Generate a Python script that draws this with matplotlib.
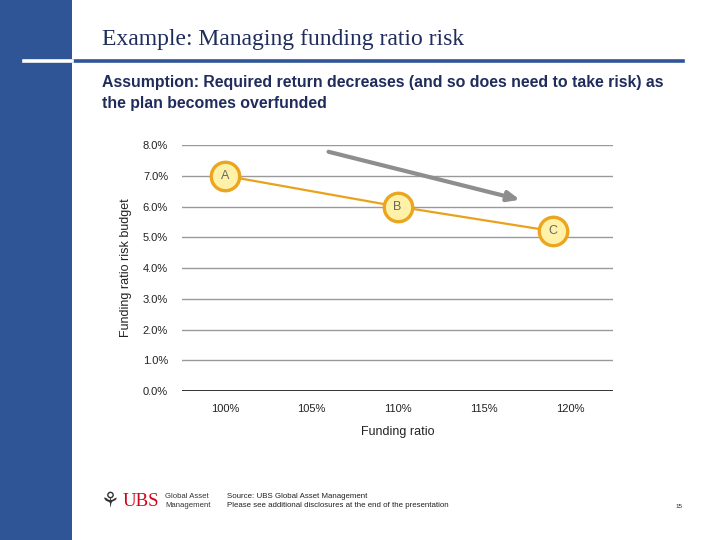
import matplotlib
matplotlib.use("Agg")
import matplotlib.pyplot as plt
from matplotlib.patches import Rectangle
from matplotlib.lines import Line2D

# Data
point_labels = ["A", "B", "C"]
funding_ratio = [100, 110, 119]
risk_budget = [7.0, 6.0, 5.2]
x_ticks = [100, 105, 110, 115, 120]
x_tick_labels = ["100%", "105%", "110%", "115%", "120%"]
y_ticks = [0, 1, 2, 3, 4, 5, 6, 7, 8]
y_tick_labels = ["0.0%", "1.0%", "2.0%", "3.0%", "4.0%", "5.0%", "6.0%", "7.0%", "8.0%"]
arrow_start = (106.0, 7.78)
arrow_end = (117.1, 6.22)

title = "Example: Managing funding ratio risk"
subtitle = "Assumption: Required return decreases (and so does need to take risk) as\nthe plan becomes overfunded"
source_lines = ["Source: UBS Global Asset Management",
                "Please see additional disclosures at the end of the presentation"]

W, H = 720, 540
fig = plt.figure(figsize=(7.2, 5.4), dpi=100)
fig.patch.set_facecolor("white")

navy = "#2F5597"
text_navy = "#1F2C5C"

# Left blue band
fig.patches.append(Rectangle((0, 0), 72 / W, 1, transform=fig.transFigure,
                             facecolor=navy, edgecolor="none", zorder=0))
# Header rule
fig.add_artist(Line2D([72 / W, 683 / W], [1 - 61 / H] * 2, transform=fig.transFigure,
                      color=navy, lw=2.6))
fig.add_artist(Line2D([24 / W, 72 / W], [1 - 61 / H] * 2, transform=fig.transFigure,
                      color="white", lw=2.6))

fig.text(102 / W, 1 - 40 / H, title, family="Liberation Serif", fontsize=17,
         color=text_navy, va="center", ha="left")
fig.text(102 / W, 1 - 93 / H, subtitle, family="Liberation Sans", fontsize=11.4,
         fontweight="bold", color=text_navy, va="center", ha="left", linespacing=1.45)

# Chart axes
left, right, top, bottom = 182, 613, 145, 391
ax = fig.add_axes([left / W, 1 - bottom / H, (right - left) / W, (bottom - top) / H])
ax.set_xlim(97.5, 122.5)
ax.set_ylim(0, 8)
for s in ax.spines.values():
    s.set_visible(False)
ax.set_yticks(y_ticks)
ax.set_yticklabels(y_tick_labels)
ax.set_xticks(x_ticks)
ax.set_xticklabels(x_tick_labels)
ax.tick_params(length=0, labelsize=8, labelcolor="#222222")
ax.tick_params(axis="x", pad=9)
ax.tick_params(axis="y", pad=10)
for lab in ax.get_xticklabels() + ax.get_yticklabels():
    lab.set_family("Liberation Sans")
for yv in y_ticks[1:]:
    ax.axhline(yv, color="#9A9A9A", lw=1.0, zorder=1)
ax.axhline(0, color="#111111", lw=1.2, zorder=1)

ax.plot(funding_ratio, risk_budget, color="#E9A21B", lw=1.6, zorder=3,
        marker="o", markersize=20.5, markerfacecolor="#FFF2A8",
        markeredgecolor="#EBA51E", markeredgewidth=2.4)
for lx, ly, lt in zip(funding_ratio, risk_budget, point_labels):
    ax.text(lx, ly, lt, ha="center", va="center", fontsize=9, color="#666666",
            family="Liberation Sans", zorder=4)

ax.annotate("", xy=arrow_end, xytext=arrow_start,
            arrowprops=dict(arrowstyle="-|>,head_length=0.7,head_width=0.3",
                            color="#8E8E8E", lw=3, shrinkA=0, shrinkB=0), zorder=2)

ax.set_xlabel("Funding ratio", fontsize=9, family="Liberation Sans", color="#222222",
              labelpad=9)
ax.set_ylabel("Funding ratio risk budget", fontsize=9, family="Liberation Sans",
              color="#222222", labelpad=8)

# Footer
fig.text(123 / W, 1 - 501 / H, "UBS", family="Liberation Serif", fontsize=13.5,
         color="#D0021B", va="center", ha="left")
fig.text(101 / W, 1 - 501 / H, "\u2698", fontsize=15, color="#333333", va="center",
         ha="left", family="DejaVu Sans")
fig.text(165 / W, 1 - 501 / H, "Global Asset\nManagement", family="Liberation Sans",
         fontsize=5.6, color="#333333", va="center", ha="left", linespacing=1.4)
fig.text(227 / W, 1 - 501 / H, "\n".join(source_lines), family="Liberation Sans",
         fontsize=5.7, color="#222222", va="center", ha="left", linespacing=1.5)
fig.text(679 / W, 1 - 507 / H, "15", family="Liberation Sans", fontsize=4.5,
         color="#222222", va="center", ha="center")

fig.savefig("out.png", dpi=100)
